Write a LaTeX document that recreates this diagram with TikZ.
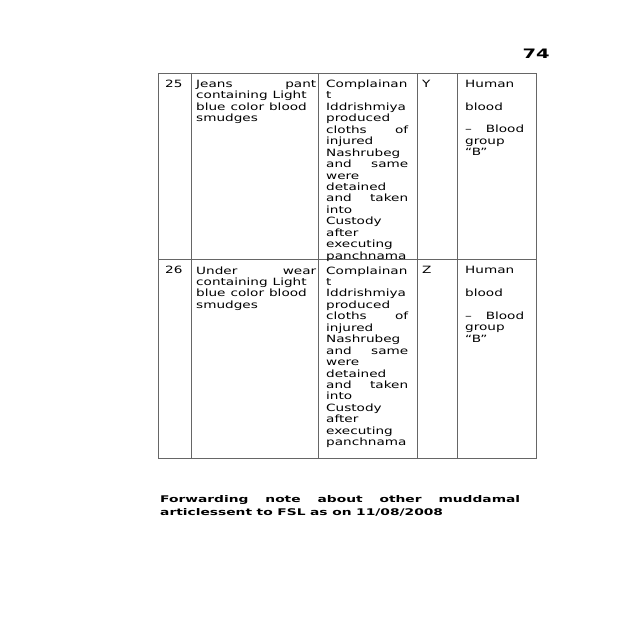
\documentclass[tikz,border=0pt]{standalone}
\usepackage{fontspec}
\newfontfamily\cellfont[FakeStretch=1.36]{DejaVu Sans}
\newfontfamily\notefont[FakeStretch=1.5]{DejaVu Sans}
\newcommand\widespaces{\spaceskip=0.5em\relax}
\tikzset{
  rule/.style={draw=black!60, line width=0.75pt},
  cell/.style={anchor=north west, inner sep=0pt, align=left,
    font=\cellfont\fontsize{10}{11.45}\selectfont,
    execute at begin node=\widespaces},
  note/.style={inner sep=0pt, font=\notefont\bfseries}
}
\begin{document}
\begin{tikzpicture}[x=1pt, y=-1pt]
\useasboundingbox (0,0) rectangle (640,640);

\coordinate (tl) at (158,73);
\coordinate (tr) at (536,73);
\coordinate (ml) at (158,259);
\coordinate (mr) at (536,259);
\coordinate (bl) at (158,458);
\coordinate (br) at (536,458);
\coordinate (c1t) at (191,73);  \coordinate (c1b) at (191,458);
\coordinate (c2t) at (318,73);  \coordinate (c2b) at (318,458);
\coordinate (c3t) at (417,73);  \coordinate (c3b) at (417,458);
\coordinate (c4t) at (457,73);  \coordinate (c4b) at (457,458);

\draw [rule] (tl) rectangle (br);
\draw [rule] (ml) -- (mr);
\draw [rule] (c1t) -- (c1b);
\draw [rule] (c2t) -- (c2b);
\draw [rule] (c3t) -- (c3b);
\draw [rule] (c4t) -- (c4b);

\node [note, anchor=base east, font=\notefont\bfseries\fontsize{13}{15}\selectfont] (page) at (550,58) {74};

\node [cell] (no25) at (165,79.7) {25};
\node [cell, text width=120pt] (item25) at (196,79.7) {Jeans \hfill pant\\ containing Light\\ blue color blood\\ smudges};
\node [cell, text width=82pt] (how25) at (326,79.7) {Complainan\\ t\\ Iddrishmiya\\ produced\\ cloths \hfill of\\ injured\\ Nashrubeg\\ and \hfill same\\ were\\ detained\\ and \hfill taken\\ into\\ Custody\\ after\\ executing\\ panchnama};
\node [cell] (mark25) at (422,79.7) {Y};
\node [cell, text width=59pt] (res25) at (465,79.7) {Human\\[11.45pt] blood\\[11.45pt] – \hfill Blood\\ group\\ “B”};

\node [cell] (no26) at (165,266.2) {26};
\node [cell, text width=120pt] (item26) at (196,266.2) {Under \hfill wear\\ containing Light\\ blue color blood\\ smudges};
\node [cell, text width=82pt] (how26) at (326,266.2) {Complainan\\ t\\ Iddrishmiya\\ produced\\ cloths \hfill of\\ injured\\ Nashrubeg\\ and \hfill same\\ were\\ detained\\ and \hfill taken\\ into\\ Custody\\ after\\ executing\\ panchnama};
\node [cell] (mark26) at (422,266.2) {Z};
\node [cell, text width=59pt] (res26) at (465,266.2) {Human\\[11.45pt] blood\\[11.45pt] – \hfill Blood\\ group\\ “B”};

\node [note, anchor=north west, text width=360pt, align=left, font=\notefont\bfseries\fontsize{9.2}{13}\selectfont, execute at begin node=\widespaces] (fwd) at (160,495.2) {Forwarding \hfill note \hfill about \hfill other \hfill muddamal\\ articlessent to FSL as on 11/08/2008};
\end{tikzpicture}
\end{document}
